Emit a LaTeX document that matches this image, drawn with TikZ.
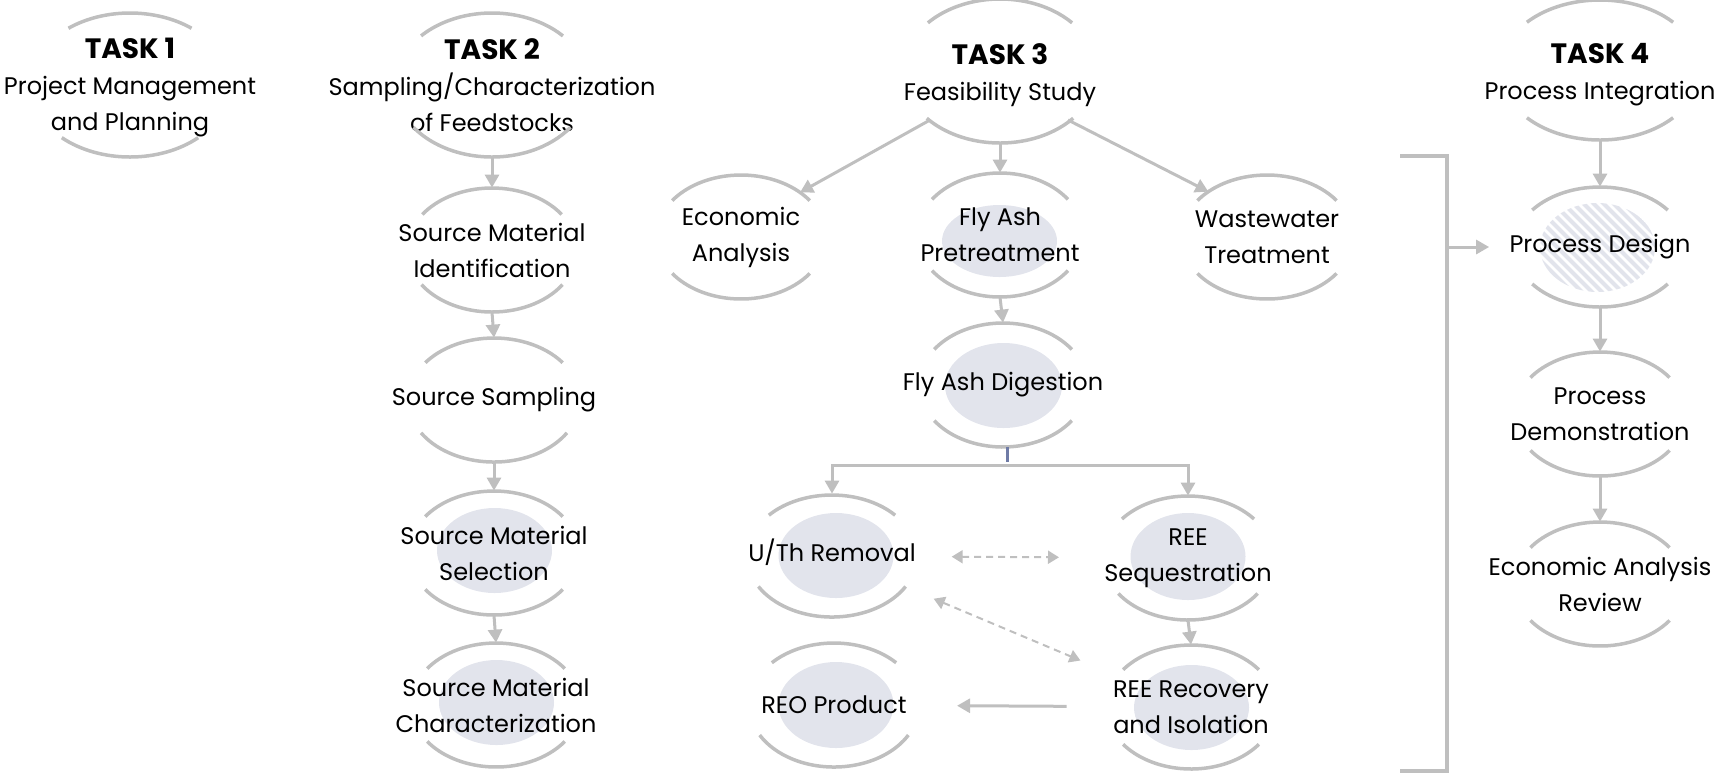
\documentclass[tikz,border=0pt]{standalone}
\usepackage{fontspec}
\setmainfont{Poppins}
\usetikzlibrary{arrows.meta}
\usetikzlibrary{calc}
\usetikzlibrary{backgrounds}
\definecolor{arcgray}{HTML}{BFBFBF}
\definecolor{blobfill}{HTML}{E2E4EC}
\definecolor{stubblue}{HTML}{6F7BA6}
\tikzset{
  ring/.style={draw=arcgray,line width=1.75pt},
  flow/.style={draw=arcgray,line width=1.5pt,-{Triangle[length=6.5pt,width=7pt]}},
  dflow/.style={draw=arcgray,line width=1pt,dash pattern=on 3.5pt off 2.5pt,
    {Triangle[length=5.5pt,width=6.5pt]}-{Triangle[length=5.5pt,width=6.5pt]}},
  stage/.style={align=center,inner sep=0pt,minimum height=62pt,font=\fontsize{12}{18}\selectfont},
  task/.style={stage,minimum height=72pt},
  blob/.style={fill=blobfill},
}
\newcommand{\tasktitle}[1]{{\fontsize{14}{18}\selectfont\bfseries #1}}

\begin{document}
\begin{tikzpicture}[x=0.5pt,y=0.5pt]
  \useasboundingbox (0,0) rectangle (1722,-773);
  % task heads
  \node[task] (t1) at (130,-88) {\tasktitle{TASK 1}\\Project Management\\and Planning};
  \node[task] (t2) at (492,-85) {\tasktitle{TASK 2}\\Sampling/Characterization\\of Feedstocks};
  \node[task,minimum height=68pt] (t3) at (1000,-75) {\tasktitle{TASK 3}\\Feasibility Study};
  \node[task,minimum height=65pt] (t4) at (1600,-75) {\tasktitle{TASK 4}\\Process Integration};
  % task 2
  \node[stage] (ident) at (492,-250) {Source Material\\Identification};
  \node[stage] (samp) at (494,-400) {Source Sampling};
  \node[stage] (select) at (494,-553) {Source Material\\Selection};
  \node[stage] (charact) at (496,-705) {Source Material\\Characterization};
  % task 3
  \node[stage] (econ) at (741,-237) {Economic\\Analysis};
  \node[stage] (pre) at (1000,-235) {Fly Ash\\Pretreatment};
  \node[stage] (waste) at (1267,-237) {Wastewater\\Treatment};
  \node[stage] (dig) at (1003,-385) {Fly Ash Digestion};
  \node[stage,text depth=6pt] (uth) at (832,-556) {U/Th Removal};
  \node[stage] (seq) at (1188,-558) {REE\\Sequestration};
  \node[stage] (rec) at (1191,-707) {REE Recovery\\and Isolation};
  \node[stage] (reo) at (834,-705) {REO Product};
  % task 4
  \node[stage,minimum height=60pt] (design) at (1600,-247) {Process Design};
  \node[stage] (demo) at (1600,-414) {Process\\Demonstration};
  \node[stage] (review) at (1600,-584) {Economic Analysis\\Review};

  % arcs round every node
  \foreach \n/\oy/\rx/\ry/\tu/\td in {t1/3/100/72/52/47,t2/0/97/72/43/36,t3/4/97/72/42/41,t4/5/100/70/43/43,
      ident/0/85/62/35/34,samp/0/86/62/37/32,select/0/85/62/36/36,charact/0/85/62/36/36,
      econ/0/85/62/36/36,pre/0/83/62/35/35,waste/0/86/62/36/36,dig/0/84/62/35/35,
      uth/0/85/61/42/30,seq/0/85/62/39/35,rec/0/85/62/37/37,reo/0/85/62/43/29,
      design/0/86/60/38/38,demo/0/86/62/36/36,review/0/86/62/36/36}{
    \draw[ring] (\n.center) ++({\rx*cos(\tu)},{\oy+\ry*sin(\tu)})
      arc[start angle=\tu,end angle=180-\tu,x radius=\rx,y radius=\ry];
    \draw[ring] (\n.center) ++({\rx*cos(\td)},{\oy-\ry*sin(\td)})
      arc[start angle=-\td,end angle=-180+\td,x radius=\rx,y radius=\ry];
  }

  \begin{scope}[on background layer]
    \fill[blob] (999.5,-241) ellipse [x radius=57.5,y radius=36];
    \fill[blob] (1003.5,-385.5) ellipse [x radius=58.5,y radius=42.5];
    \fill[blob] (836,-555.5) ellipse [x radius=57.5,y radius=42.5];
    \fill[blob] (1188,-556.5) ellipse [x radius=57.5,y radius=43.5];
    \fill[blob] (1191.5,-707.5) ellipse [x radius=57.5,y radius=42.5];
    \fill[blob] (836,-705) ellipse [x radius=57.5,y radius=43];
    \fill[blob] (494.5,-550.5) ellipse [x radius=57.5,y radius=42.5];
    \fill[blob] (496.5,-702.5) ellipse [x radius=57.5,y radius=42.5];
    \begin{scope}
      \clip (1597.5,-247.5) ellipse [x radius=57.5,y radius=44.5];
      \foreach \k in {-2,...,14}
        \draw[blobfill,line width=2pt] (1480+\k*10,-190) -- ++(120,-120);
    \end{scope}
  \end{scope}

  % task 2 chain
  \draw[flow] (t2.south) -- (ident.north);
  \draw[flow] (ident.south) -- (samp.north);
  \draw[flow] (samp.south) -- (select.north);
  \draw[flow] (select.south) -- (charact.north);

  % task 3
  \draw[flow] ($(t3)+(-70,-45)$) -- ($(econ)+(46:85 and 62)$);
  \draw[flow] ($(t3)+(68,-45)$) -- ($(waste)+(133:86 and 62)$);
  \draw[flow] (t3.south) -- (pre.north);
  \draw[flow] (pre.south) -- (dig.north);
  \coordinate (split) at (1007,-465);
  \draw[flow] (split) -| (uth.north);
  \draw[flow] (split) -| (seq.north);
  \draw[stubblue,line width=1.5pt] (dig.south -| split) -- ([yshift=1.5pt]split);
  \draw[dflow,shorten <=17.75pt,shorten >=22.5pt] (uth) -- (seq);
  \draw[dflow,shorten <=9.5pt,shorten >=17.5pt] (uth) -- (rec);
  \draw[flow] (seq.south) -- (rec.north);
  \draw[flow,shorten <=23pt,shorten >=25pt] (rec) -- (reo);

  % task 4
  \draw[flow] (t4.south) -- (design.north);
  \draw[flow] (design.south) -- (demo.north);
  \draw[flow] (demo.south) -- (review.north);
  \draw[ring] (1400,-156) -- (1447,-156) -- (1447,-771) -- (1400,-771);
  \coordinate (brk) at (1447,-247);
  \draw[flow] (brk) -- ([xshift=-10pt]design.west);
\end{tikzpicture}
\end{document}
